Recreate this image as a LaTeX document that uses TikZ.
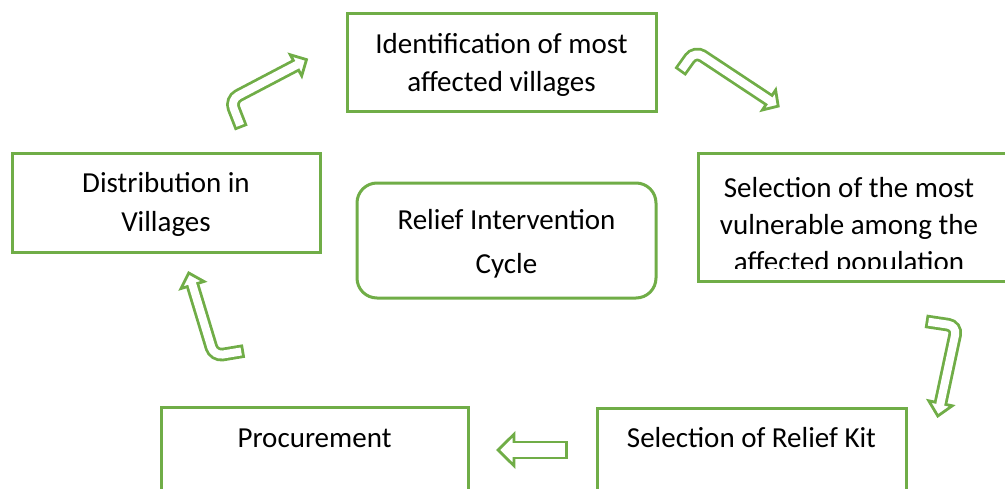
\documentclass[tikz,border=0pt]{standalone}
\usepackage{fontspec}
\setmainfont{Carlito}
\usetikzlibrary{calc}
\definecolor{grn}{HTML}{70AD47}
\tikzset{
  box/.style={draw=grn, line width=3pt, fill=white, inner sep=0pt},
  lbl/.style={anchor=base, align=center, inner sep=0pt, text=black},
  shaftout/.style={draw=grn, line width=13.6pt, rounded corners=9pt},
  shaftin/.style={draw=white, line width=8pt, rounded corners=9pt, shorten <=2.8pt, shorten >=-2pt},
  head/.style={fill=white, draw=grn, line width=2.8pt, line join=miter},
}
\begin{document}
\begin{tikzpicture}[x=1pt, y=-1pt]
\useasboundingbox (0,0) rectangle (1005,488);
\clip (0,0) rectangle (1005,488);
% boxes
\node[box, minimum width=309pt, minimum height=98pt] (ident) at (501.5,62) {};
\node[box, minimum width=308pt, minimum height=99pt] (distr) at (166,202.5) {};
\node[box, minimum width=314pt, minimum height=128pt] (vuln) at (855,217) {};
\node[box, minimum width=307pt, minimum height=93pt] (proc) at (314.5,453.5) {};
\node[box, minimum width=309pt, minimum height=92pt] (kit) at (751.5,454) {};
\node[box, rounded corners=20pt, minimum width=299pt, minimum height=115pt] (cycle) at (506.5,240.5) {};
% texts (base anchor = last line baseline)
\node[lbl, font={\fontsize{29}{38}\selectfont}] (identT) at (501.5,91) {Identification of most\\affected villages};
\node[lbl, font={\fontsize{29}{39}\selectfont}] (distrT) at (166,231) {Distribution in\\Villages};
\node[lbl, font={\fontsize{29}{44}\selectfont}] (cycleT) at (506.5,273) {Relief Intervention\\Cycle};
\begin{scope}
\clip (690,150) rectangle (1005,268.5);
\node[lbl, font={\fontsize{29}{37}\selectfont}] (vulnT) at (849,271) {Selection of the most\\vulnerable among the\\affected population};
\end{scope}
\node[lbl, font={\fontsize{29}{38}\selectfont}] (procT) at (314.5,447) {Procurement};
\node[lbl, font={\fontsize{29}{38}\selectfont}] (kitT) at (751.5,447) {Selection of Relief Kit};
% arrow coordinates
\coordinate (a1t) at (241.3,128);
\coordinate (a1b) at (230.3,99.8);
\coordinate (a1h) at (296,65.3);
\coordinate (a1p) at (306.5,59.6);
\coordinate (a2t) at (680,72);
\coordinate (a2b) at (695,51);
\coordinate (a2h) at (769,100);
\coordinate (a2p) at (778.2,106.1);
\coordinate (a3t) at (925.7,321.3);
\coordinate (a3b) at (957,326);
\coordinate (a3h) at (940.5,403.3);
\coordinate (a3p) at (937.8,416);
\coordinate (a4t) at (568,450);
\coordinate (a4h) at (514,450);
\coordinate (a4p) at (498,450);
\coordinate (a5t) at (244,351);
\coordinate (a5b) at (214,356);
\coordinate (a5h) at (192.5,285);
\coordinate (a5p) at (188.8,273);
% arrow 1
\draw[shaftout] (a1t) -- (a1b) -- (a1h);
\filldraw[head] ($(a1h)!12pt!90:(a1p)$) -- (a1p) -- ($(a1h)!12pt!-90:(a1p)$) -- cycle;
\draw[shaftin] (a1t) -- (a1b) -- (a1h);
% arrow 2
\draw[shaftout] (a2t) -- (a2b) -- (a2h);
\filldraw[head] ($(a2h)!12pt!90:(a2p)$) -- (a2p) -- ($(a2h)!12pt!-90:(a2p)$) -- cycle;
\draw[shaftin] (a2t) -- (a2b) -- (a2h);
% arrow 3
\draw[shaftout] (a3t) -- (a3b) -- (a3h);
\filldraw[head] ($(a3h)!12pt!90:(a3p)$) -- (a3p) -- ($(a3h)!12pt!-90:(a3p)$) -- cycle;
\draw[shaftin] (a3t) -- (a3b) -- (a3h);
% arrow 4
\draw[draw=grn, line width=18.8pt] (a4t) -- (a4h);
\filldraw[head] ($(a4h)!15.7pt!90:(a4p)$) -- (a4p) -- ($(a4h)!15.7pt!-90:(a4p)$) -- cycle;
\draw[draw=white, line width=13.2pt, shorten <=2.8pt, shorten >=-2pt] (a4t) -- (a4h);
% arrow 5
\draw[shaftout] (a5t) -- (a5b) -- (a5h);
\filldraw[head] ($(a5h)!12pt!90:(a5p)$) -- (a5p) -- ($(a5h)!12pt!-90:(a5p)$) -- cycle;
\draw[shaftin] (a5t) -- (a5b) -- (a5h);
\end{tikzpicture}
\end{document}
